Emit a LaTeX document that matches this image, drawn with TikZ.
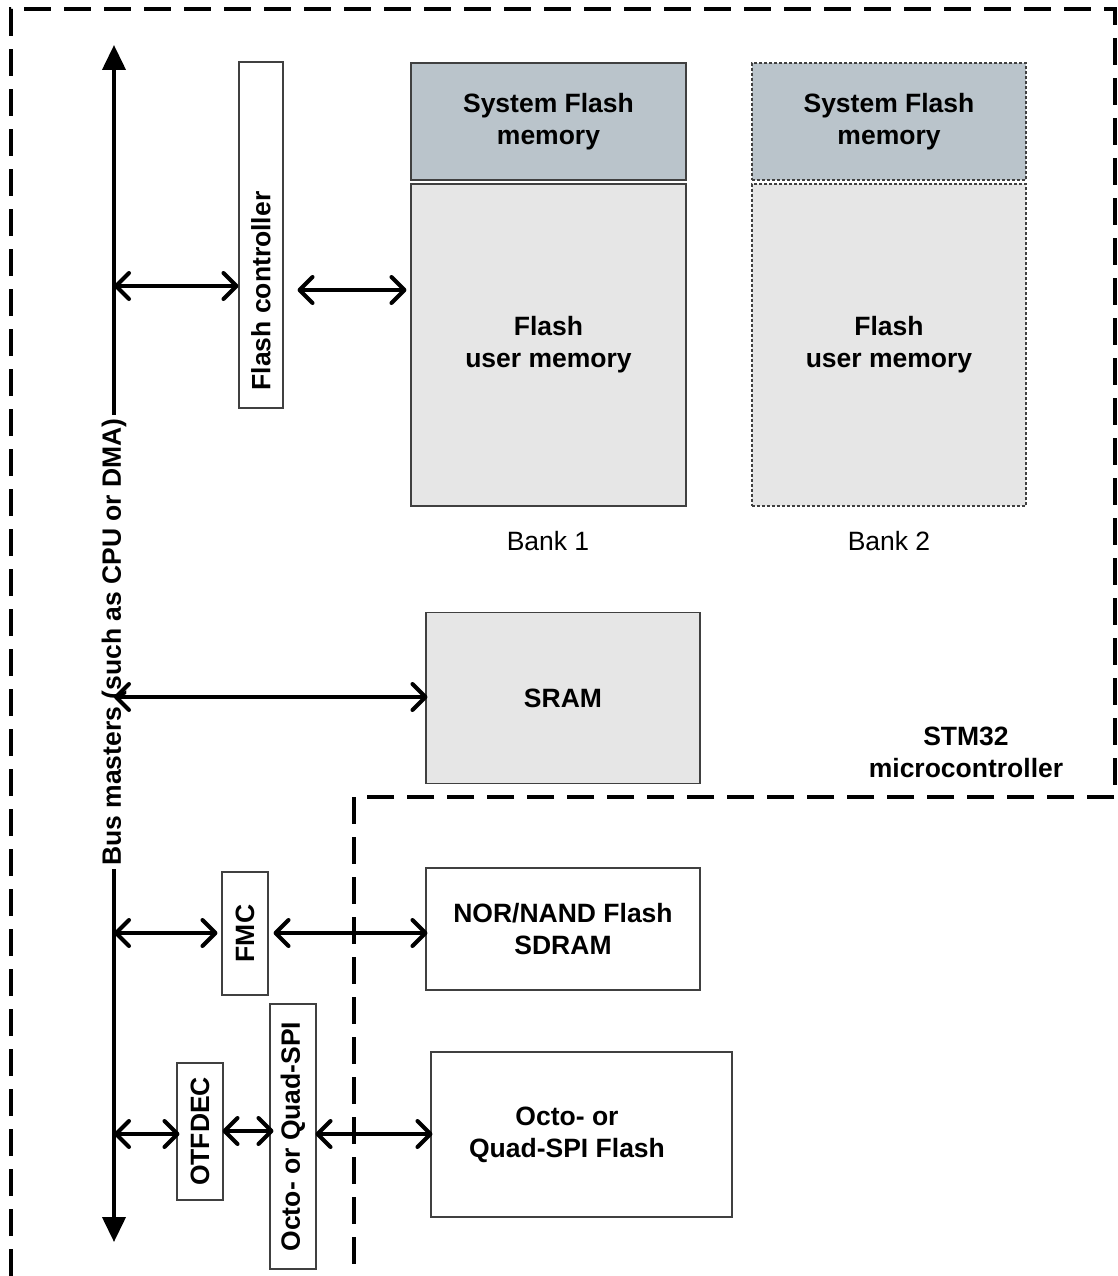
\documentclass[tikz,border=0pt]{standalone}
\usepackage{fontspec}
\setmainfont{Liberation Sans}
\usetikzlibrary{arrows.meta}
\definecolor{sysgray}{HTML}{BAC4CB}
\definecolor{memgray}{HTML}{E6E6E6}
\definecolor{edge}{HTML}{404040}
\tikzset{
  bigfont/.style={font=\bfseries\fontsize{26.5}{32}\selectfont},
  normfont/.style={font=\fontsize{26.5}{32}\selectfont},
  box/.style={draw=edge, line width=1.1pt, inner sep=0pt, align=center, bigfont},
  dbox/.style={box, dash pattern=on 3pt off 2pt, draw=black!75},
  txt/.style={inner sep=0pt, align=center, bigfont},
  outline/.style={line width=3.5pt, dash pattern=on 27pt off 13pt},
  conn/.style={line width=4pt, {Straight Barb[length=13pt,width=26pt,line cap=round,line join=round]}-{Straight Barb[length=13pt,width=26pt,line cap=round,line join=round]}},
  busline/.style={line width=4pt, {Triangle[length=25pt,width=23pt]}-{Triangle[length=25pt,width=23pt]}}
}
\begin{document}
\begin{tikzpicture}[x=1pt,y=-1pt]
\useasboundingbox (0,0) rectangle (1118,1276);
% outline of the microcontroller
\draw[outline] (11,1276) -- (11,9) -- (1115,9) -- (1115,797) -- (354,797) -- (354,1276);
% bank 1
\node[box, fill=sysgray, minimum width=275pt, minimum height=117pt] (sys1) at (548.5,121.5) {System Flash\\memory};
\node[box, fill=memgray, minimum width=275pt, minimum height=322pt] (user1) at (548.5,345) {Flash\\user memory};
\node[normfont, inner sep=0pt] (bank1) at (548,541) {Bank 1};
% bank 2
\node[dbox, fill=sysgray, minimum width=274pt, minimum height=117pt] (sys2) at (889,121.5) {System Flash\\memory};
\node[dbox, fill=memgray, minimum width=274pt, minimum height=322pt] (user2) at (889,345) {Flash\\user memory};
\node[normfont, inner sep=0pt] (bank2) at (889,541) {Bank 2};
% flash controller
\node[box, fill=white, minimum width=44pt, minimum height=346pt] (fc) at (261,235) {};
\node[txt, rotate=90] (fctext) at (261,291) {Flash controller};
% SRAM
\node[box, fill=memgray, minimum width=274pt, minimum height=171pt] (sram) at (563,698) {SRAM};
\node[txt] (stm) at (966,752) {STM32\\microcontroller};
% external memories
\node[box, fill=white, minimum width=274pt, minimum height=122pt] (nor) at (563,929) {NOR/NAND Flash\\SDRAM};
\node[box, fill=white, minimum width=123pt, minimum height=46pt, rotate=90] (fmc) at (245,933.5) {FMC};
\node[box, fill=white, minimum width=265pt, minimum height=46pt, rotate=90] (ospi) at (293,1136.5) {Octo- or Quad-SPI};
\node[box, fill=white, minimum width=137pt, minimum height=46pt, rotate=90] (otf) at (200,1131.5) {OTFDEC};
\node[box, fill=white, minimum width=301pt, minimum height=165pt] (oflash) at (581.5,1134.5) {};
\node[txt] (oflashtext) at (567,1135) {Octo- or\\Quad-SPI Flash};
% bus
\coordinate (bt) at (114,45);
\coordinate (bb) at (114,1242);
\draw[busline] (bb) -- (bt);
\node[bigfont, fill=white, inner sep=3pt, rotate=90] (busl) at (114,642) {Bus masters (such as CPU or DMA)};
% connectors
\coordinate (y1) at (114,286);
\coordinate (y2) at (114,290);
\coordinate (y3) at (114,697);
\coordinate (y4) at (114,933);
\coordinate (y5) at (114,1134);
\coordinate (y6) at (114,1131);
\draw[conn] (y1) -- (y1 -| fc.west);
\draw[conn] ([xshift=14pt]y2 -| fc.east) -- ([xshift=-4pt]y2 -| user1.west);
\draw[conn] (y3) -- ([xshift=2pt]y3 -| sram.west);
\draw[conn] (y4) -- ([xshift=-4pt]y4 -| fmc.north);
\draw[conn] ([xshift=5pt]y4 -| fmc.south) -- ([xshift=2pt]y4 -| nor.west);
\draw[conn] (y5) -- ([xshift=3pt]y5 -| otf.north);
\draw[conn] ([xshift=-1pt]y6 -| otf.south) -- ([xshift=4pt]y6 -| ospi.north);
\draw[conn] ([xshift=-1pt]y5 -| ospi.south) -- ([xshift=2pt]y5 -| oflash.west);
\end{tikzpicture}
\end{document}
